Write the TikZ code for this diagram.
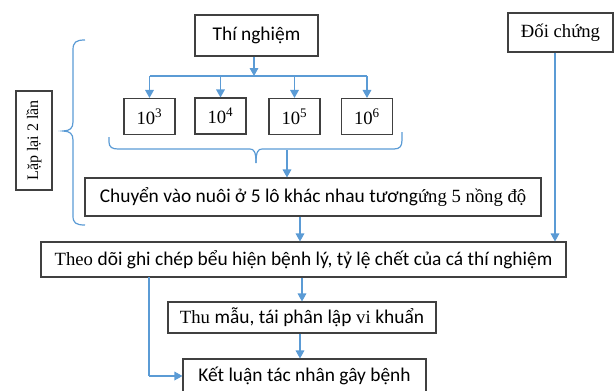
\documentclass[tikz,border=0pt]{standalone}
\usepackage{fontspec}
\setmainfont{Liberation Serif}
\newfontfamily\sn[Scale=1.04]{Carlito}
\usetikzlibrary{arrows.meta}
\definecolor{ablue}{RGB}{91,155,213}
\definecolor{bgray}{RGB}{64,64,64}
\begin{document}
\begin{tikzpicture}[x=0.75pt,y=-0.75pt,
  box/.style={draw=bgray,line width=0.8pt,inner sep=0pt,align=center,font=\fontsize{14}{16}\selectfont},
  arr/.style={draw=ablue,line width=0.9pt,-{Triangle[length=6pt,width=6.5pt]}},
  ln/.style={draw=ablue,line width=0.9pt}]
\useasboundingbox (0,0) rectangle (615,390);
% boxes
\node[box,minimum width={123*0.75pt},minimum height={41*0.75pt}] (tn) at (256.5,35.5) {\sn Thí nghiệm};
\node[box,minimum width={105*0.75pt},minimum height={39*0.75pt}] (dc) at (560.5,32.5) {Đối chứng};
\node[box,minimum width={51*0.75pt},minimum height={36*0.75pt}] (p3) at (149.5,116.5) {10\textsuperscript{3}};
\node[box,minimum width={51*0.75pt},minimum height={36*0.75pt}] (p4) at (220.5,116) {10\textsuperscript{4}};
\node[box,minimum width={51*0.75pt},minimum height={36*0.75pt}] (p5) at (294.5,116.5) {10\textsuperscript{5}};
\node[box,minimum width={51*0.75pt},minimum height={36*0.75pt}] (p6) at (367,116.5) {10\textsuperscript{6}};
\node[box,minimum width={99*0.75pt},minimum height={36*0.75pt},rotate=90,font=\fontsize{12}{14}\selectfont] (lap) at (34,140.5) {Lặp lại 2 lần};
\node[box,minimum width={456*0.75pt},minimum height={38*0.75pt}] (cv) at (313,197) {{\sn Chuyển vào nuôi ở 5 lô khác nhau tương}ứng 5 nồng độ};
\node[box,minimum width={525*0.75pt},minimum height={35*0.75pt}] (td) at (303.5,259.5) {Theo {\sn dõi ghi chép bểu hiện bệnh lý, tỷ lệ chết của cá thí nghiệm}};
\node[box,minimum width={268*0.75pt},minimum height={31*0.75pt}] (tm) at (302,317.5) {Thu {\sn mẫu, tái phân lập} vi {\sn khuẩn}};
\node[box,minimum width={243*0.75pt},minimum height={33*0.75pt}] (kl) at (304.5,375.5) {{\sn Kết luận tác nhân gây bệnh}};
% coordinates
\coordinate (b0) at (254,76);
\coordinate (b3) at (p3.north |- b0);
\coordinate (b4) at (p4.north |- b0);
\coordinate (b5) at (p5.north |- b0);
\coordinate (b6) at (p6.north |- b0);
\coordinate (bc) at (287,150);
\coordinate (tdk) at (149,277);
\coordinate (kk) at (149,376);
% connectors
\draw[arr] (tn.south -| b0) -- (b0);
\draw[ln] (b3) -- (b6);
\draw[arr] (b3) -- (p3.north);
\draw[arr] (b4) -- (p4.north);
\draw[arr] (b5) -- (p5.north);
\draw[arr] (b6) -- (p6.north);
\draw[arr] (bc) -- (cv.north -| bc);
\draw[arr] (cv.south -| 300,0) -- (td.north -| 300,0);
\draw[arr] (dc.south -| 555,0) -- (td.north -| 555,0);
\draw[arr] (td.south -| 302,0) -- (tm.north -| 302,0);
\draw[arr] (tm.south -| 300,0) -- (kl.north -| 300,0);
\draw[ln] (tdk) -- (kk);
\draw[arr] (kk) -- (kl.west |- kk);
% braces
\draw[ln] (85,40) .. controls (76,40) and (73,42) .. (73,50) -- (73,122)
  .. controls (73,128) and (70,131) .. (63,131)
  .. controls (70,131) and (73,134) .. (73,140) -- (73,216)
  .. controls (73,223) and (76,225) .. (85,225);
\draw[ln] (109,137) -- (109,142) .. controls (109,147) and (112,149) .. (118,149) -- (250,149)
  .. controls (254,149) and (256,152) .. (256,163);
\draw[ln] (256,163) .. controls (256,152) and (258,149) .. (262,149) -- (394,149)
  .. controls (400,149) and (402,146) .. (402,140) -- (402,132);
\end{tikzpicture}
\end{document}
